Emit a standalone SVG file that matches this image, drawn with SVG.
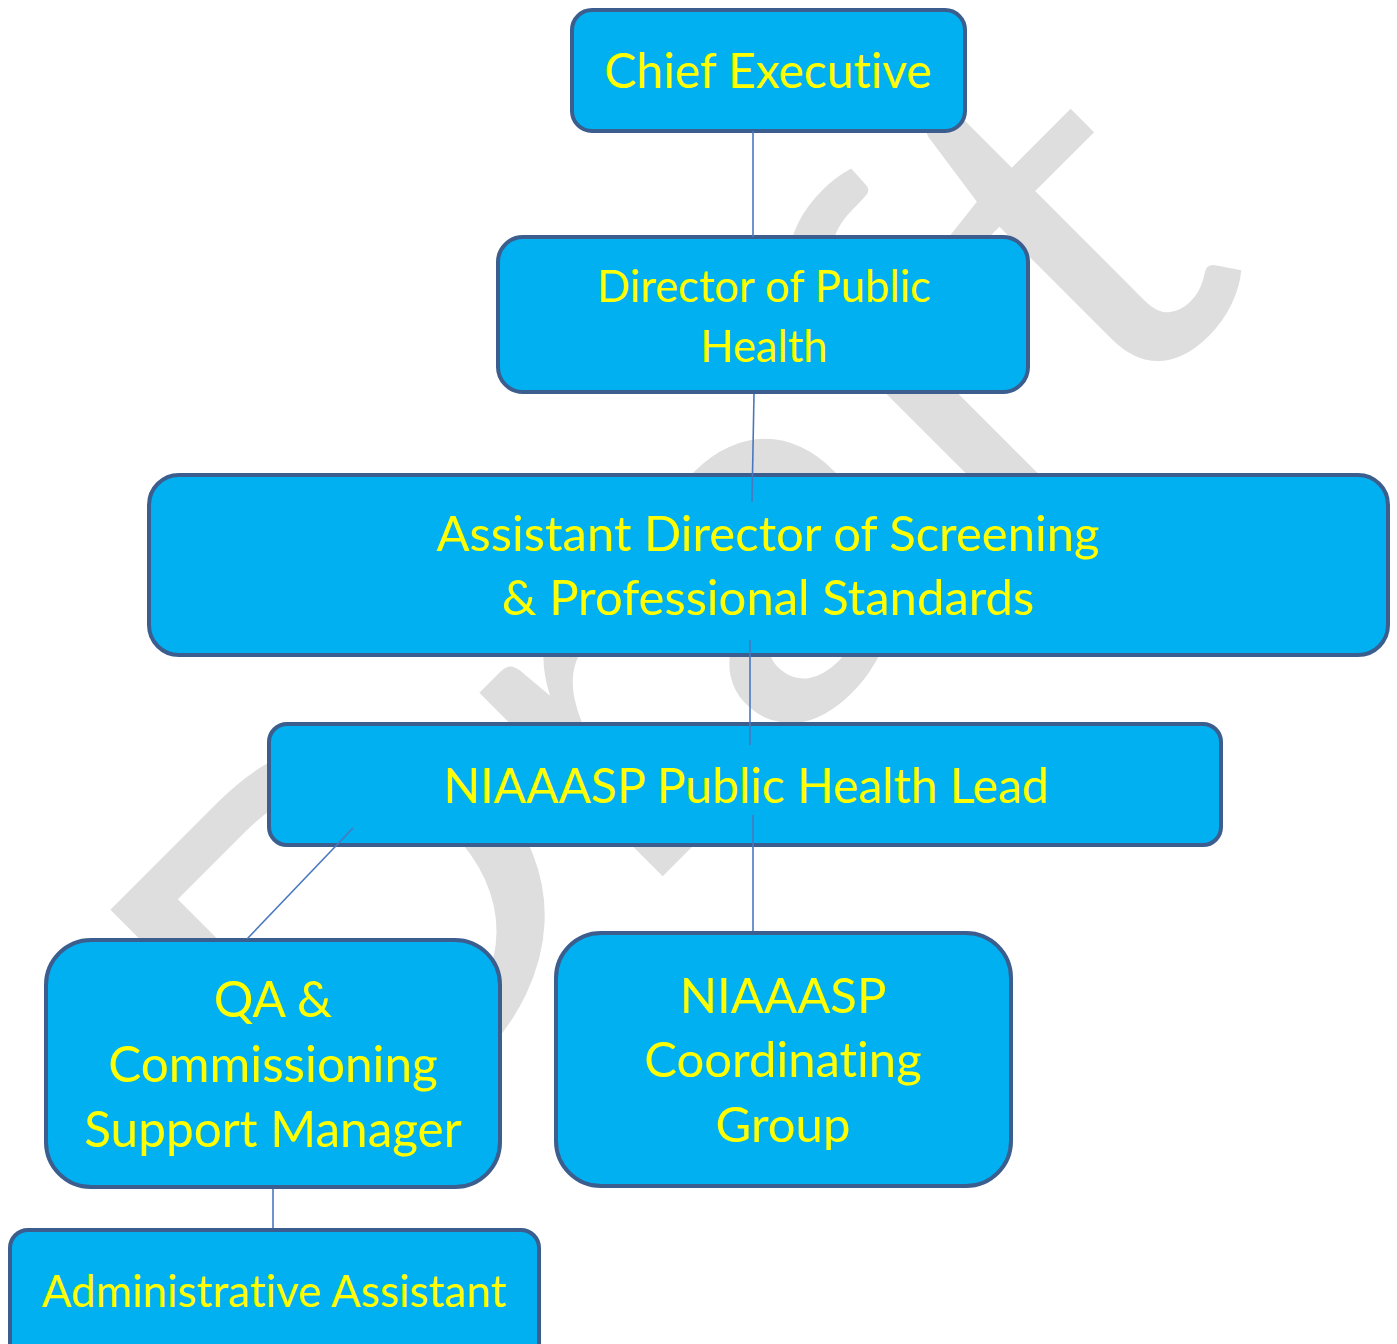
<svg xmlns="http://www.w3.org/2000/svg" width="1397" height="1344" viewBox="0 0 1397 1344">
  <style>
    .box { fill: #00B0F0; stroke: #3B5E8E; stroke-width: 4; }
    .lbl { font-family: Lato, "Liberation Sans", sans-serif; fill: #FFFF00; text-anchor: middle; font-variant-ligatures: none; }
    .wm { font-family: Lato, "Liberation Sans", sans-serif; fill: #DEDEDE; font-variant-ligatures: none; }
    .conn line { stroke: #4A78C0; stroke-width: 1.6; fill: none; }
  </style>
  <rect width="1397" height="1344" fill="#FFFFFF"/>

  <!-- watermark, stretched along its baseline -->
  <text class="wm" font-size="512" transform="translate(333,1206) rotate(-45) scale(1.11,1)">Draft</text>

  <g id="chief-executive">
    <rect class="box" x="572" y="10" width="393" height="121" rx="20"/>
    <text class="lbl" x="768" y="88" font-size="48">Chief Executive</text>
  </g>

  <g id="director-public-health">
    <rect class="box" x="498" y="237" width="530" height="155" rx="25"/>
    <text class="lbl" x="764" y="302" font-size="43.5">Director of Public</text>
    <text class="lbl" x="764" y="362" font-size="43.5">Health</text>
  </g>

  <g id="assistant-director">
    <rect class="box" x="149" y="475" width="1239" height="180" rx="30"/>
    <text class="lbl" x="768" y="551" font-size="49">Assistant Director of Screening</text>
    <text class="lbl" x="768" y="615" font-size="49">&amp; Professional Standards</text>
  </g>

  <g id="public-health-lead">
    <rect class="box" x="269" y="724" width="952" height="121" rx="18"/>
    <text class="lbl" x="746" y="803" font-size="48">NIAAASP Public Health Lead</text>
  </g>

  <g id="qa-commissioning">
    <rect class="box" x="46" y="940" width="454" height="247" rx="45"/>
    <text class="lbl" x="273" y="1017" font-size="49.5">QA &amp;</text>
    <text class="lbl" x="273" y="1082" font-size="49.5">Commissioning</text>
    <text class="lbl" x="273" y="1147" font-size="49.5">Support Manager</text>
  </g>

  <g id="coordinating-group">
    <rect class="box" x="556" y="933" width="455" height="253" rx="45"/>
    <text class="lbl" x="783" y="1013" font-size="49">NIAAASP</text>
    <text class="lbl" x="783" y="1077" font-size="49">Coordinating</text>
    <text class="lbl" x="783" y="1142" font-size="49">Group</text>
  </g>

  <g id="admin-assistant">
    <rect class="box" x="10" y="1230" width="529" height="140" rx="18"/>
    <text class="lbl" x="274" y="1307" font-size="44">Administrative Assistant</text>
  </g>

  <g id="connectors" class="conn">
    <line x1="753" y1="131" x2="753" y2="237"/>
    <line x1="754" y1="394" x2="752" y2="502"/>
    <line x1="750" y1="640" x2="750" y2="745"/>
    <line x1="353" y1="828" x2="247" y2="939"/>
    <line x1="753" y1="815" x2="753" y2="931"/>
    <line x1="273" y1="1189" x2="273" y2="1228"/>
  </g>
</svg>
